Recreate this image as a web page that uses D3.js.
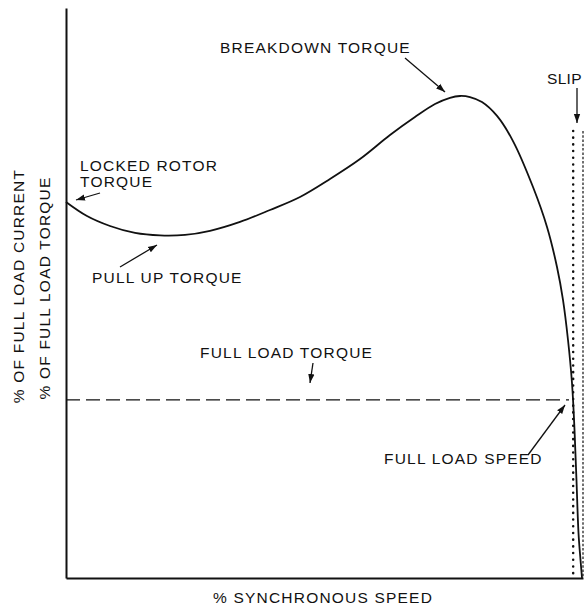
<!DOCTYPE html>
<html>
<head>
<meta charset="utf-8">
<script src="https://cdn.jsdelivr.net/npm/d3@7"></script>
<style>
  body { margin: 0; background: #fff; }
  svg text { font-family: "Liberation Sans", Arial, sans-serif; font-size: 15.5px; letter-spacing: 1.2px; fill: #111; }
</style>
</head>
<body>
<svg id="chart" width="585" height="607"></svg>
<script>
// speed-torque curve, % synchronous speed vs % full load torque
const speedPct  = [0, 4.06, 8.51, 13.35, 18.18, 23.02, 27.85, 33.66, 39.46, 45.26, 51.06, 56.87, 62.67, 67.5, 71.37, 74.27, 76.21, 78.14, 80.46, 83.37, 86.46, 90.33, 93.04, 94.97, 96.13, 97.1, 97.87, 98.36, 98.74, 99.13, 99.52, 99.81];
const torquePct = [211.1, 203.2, 197.6, 193.7, 192.3, 192.6, 194.9, 199.9, 206.6, 213.9, 224.0, 235.2, 248.7, 258.8, 266.1, 269.6, 270.6, 270.0, 267.2, 259.4, 245.3, 219.5, 197.1, 174.6, 156.1, 133.6, 109.5, 83.1, 55.0, 25.3, 10.1, 0];

const fullLoadTorque = 100;
const fullLoadSpeed = 97.3;
const slipSpeed = 98.1;     // dotted line
const syncSpeed = 100;      // fine dashed line
const slipTop = 251;        // where the slip lines start

const svg = d3.select("#chart");
const margin = {left: 66, right: 2, top: 8, bottom: 29};
const width = 585, height = 607;

const x = d3.scaleLinear().domain([0, 100]).range([margin.left, width - margin.right]);
const y = d3.scaleLinear().domain([0, 320]).range([height - margin.bottom, margin.top]);

// axes, no ticks or labels on the original
svg.append("g")
    .attr("transform", `translate(${margin.left},0)`)
    .call(d3.axisLeft(y).ticks(0).tickSize(0).tickFormat(""))
    .call(g => g.select(".domain").attr("stroke", "#111").attr("stroke-width", 2));

svg.append("g")
    .attr("transform", `translate(0,${y(0)})`)
    .call(d3.axisBottom(x).ticks(0).tickSize(0).tickFormat(""))
    .call(g => g.select(".domain").attr("stroke", "#111").attr("stroke-width", 2));

// full load torque dashed line
svg.append("line")
    .attr("x1", x(0)).attr("x2", x(fullLoadSpeed))
    .attr("y1", y(fullLoadTorque)).attr("y2", y(fullLoadTorque))
    .attr("stroke", "#111").attr("stroke-width", 1.3)
    .attr("stroke-dasharray", "14,6");

// slip lines
svg.append("line")
    .attr("x1", x(slipSpeed)).attr("x2", x(slipSpeed))
    .attr("y1", y(slipTop)).attr("y2", y(0))
    .attr("stroke", "#111").attr("stroke-width", 2.5)
    .attr("stroke-linecap", "round")
    .attr("stroke-dasharray", "0.1,6.6");

svg.append("line")
    .attr("x1", x(syncSpeed)).attr("x2", x(syncSpeed))
    .attr("y1", y(slipTop)).attr("y2", y(0))
    .attr("stroke", "#111").attr("stroke-width", 1.2)
    .attr("stroke-dasharray", "2.5,1.8");

// torque curve
const line = d3.line()
    .x((d, i) => x(speedPct[i]))
    .y(d => y(d))
    .curve(d3.curveCatmullRom.alpha(0.5));

svg.append("path")
    .datum(torquePct)
    .attr("d", line)
    .attr("fill", "none")
    .attr("stroke", "#111")
    .attr("stroke-width", 1.8);

// arrows
svg.append("defs").append("marker")
    .attr("id", "head")
    .attr("viewBox", "0 0 10 10")
    .attr("refX", 10).attr("refY", 5)
    .attr("markerWidth", 9).attr("markerHeight", 9)
    .attr("markerUnits", "userSpaceOnUse")
    .attr("orient", "auto")
  .append("path")
    .attr("d", "M0,1.5 L10,5 L0,8.5 Z")
    .attr("fill", "#111");

const arrows = [
    [405, 58, 445, 92],
    [100, 193, 76, 200],
    [120, 267, 157, 245],
    [313, 363, 310, 383],
    [528, 455, 565, 405],
    [577, 88, 577, 123]
];
svg.selectAll("line.arrow")
    .data(arrows)
    .join("line")
    .attr("class", "arrow")
    .attr("x1", d => d[0]).attr("y1", d => d[1])
    .attr("x2", d => d[2]).attr("y2", d => d[3])
    .attr("stroke", "#111").attr("stroke-width", 1.3)
    .attr("marker-end", "url(#head)");

// labels
const labels = [
    ["BREAKDOWN TORQUE", 220, 53],
    ["LOCKED ROTOR", 80, 171],
    ["TORQUE", 80, 187],
    ["PULL UP TORQUE", 92, 283],
    ["FULL LOAD TORQUE", 200, 358],
    ["FULL LOAD SPEED", 384, 464],
    ["% SYNCHRONOUS SPEED", 213, 603]
];
svg.selectAll("text.lbl")
    .data(labels)
    .join("text")
    .attr("class", "lbl")
    .attr("x", d => d[1]).attr("y", d => d[2])
    .text(d => d[0]);

svg.append("text")
    .attr("x", 547).attr("y", 84)
    .style("letter-spacing", "0.3px")
    .text("SLIP");

svg.append("text")
    .attr("transform", "translate(24,286) rotate(-90)")
    .attr("text-anchor", "middle")
    .text("% OF FULL LOAD CURRENT");
svg.append("text")
    .attr("transform", "translate(50,288) rotate(-90)")
    .attr("text-anchor", "middle")
    .text("% OF FULL LOAD TORQUE");
</script>
</body>
</html>
